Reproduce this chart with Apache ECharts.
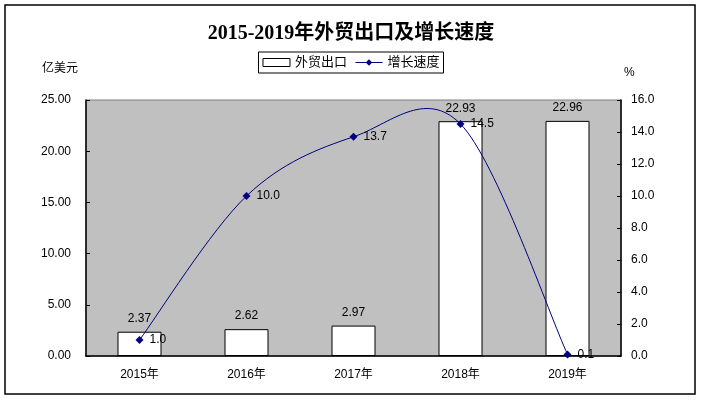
<!DOCTYPE html>
<html><head><meta charset="utf-8">
<script src="https://cdn.jsdelivr.net/npm/echarts@6/dist/echarts.min.js"></script>
<style>html,body{margin:0;padding:0;background:#fff}#c{width:702px;height:400px}</style>
</head><body><div id="c"></div>
<script>
var categories = ['2015年','2016年','2017年','2018年','2019年'];
var exportValues = [2.37, 2.62, 2.97, 22.93, 22.96];
var growthRates = [1.0, 10.0, 13.7, 14.5, 0.1];
var leftTicks = {min: 0, max: 25, interval: 5};
var rightTicks = {min: 0, max: 16, interval: 2};

var chart = echarts.init(document.getElementById('c'));
var sans = 'Arial, "Liberation Sans", "Noto Sans CJK SC", sans-serif';
var lineColor = '#000080';

// Smoothed curve (Catmull-Rom style, like the spreadsheet's smoothed line) through the data points,
// positioned through the chart's own coordinate system.
function renderCurve(params, api) {
  if (params.dataIndex !== 0) return null;
  var pts = growthRates.map(function (v, i) { return api.coord([i, v]); });
  var n = pts.length;
  var d = 'M' + pts[0][0] + ' ' + pts[0][1];
  for (var i = 0; i < n - 1; i++) {
    var p0 = pts[Math.max(i - 1, 0)], p1 = pts[i], p2 = pts[i + 1], p3 = pts[Math.min(i + 2, n - 1)];
    var c1x = p1[0] + (p2[0] - p0[0]) / 6, c1y = p1[1] + (p2[1] - p0[1]) / 6;
    var c2x = p2[0] - (p3[0] - p1[0]) / 6, c2y = p2[1] - (p3[1] - p1[1]) / 6;
    d += ' C' + c1x + ' ' + c1y + ' ' + c2x + ' ' + c2y + ' ' + p2[0] + ' ' + p2[1];
  }
  return {type: 'path', shape: {pathData: d}, style: {fill: 'none', stroke: lineColor, lineWidth: 1}, z2: 1};
}

chart.setOption({
  animation: false,
  backgroundColor: '#fff',
  textStyle: {fontFamily: sans},
  title: {
    text: '2015-2019年外贸出口及增长速度',
    left: 'center', top: 19,
    textStyle: {fontFamily: '"Liberation Serif", "Times New Roman", "Noto Sans CJK SC", serif', fontSize: 20, fontWeight: 'bold', color: '#000'}
  },
  legend: {
    top: 52, left: 'center',
    borderColor: '#000', borderWidth: 1, padding: [4, 4, 4, 4],
    itemWidth: 27, itemHeight: 8, itemGap: 8,
    textStyle: {fontSize: 13, color: '#000', fontFamily: sans},
    lineStyle: {color: lineColor, width: 1, opacity: 1},
    data: [
      {name: '外贸出口', icon: 'rect', itemStyle: {color: '#fff', borderColor: '#000', borderWidth: 1}},
      {name: '增长速度', lineStyle: {color: lineColor, width: 1, opacity: 1}}
    ]
  },
  graphic: [
    {type: 'rect', shape: {x: 5, y: 5, width: 690, height: 389}, style: {fill: 'none', stroke: '#000', lineWidth: 1.5}, z: 100},
    {type: 'text', left: 42, top: 63, style: {text: '亿美元', font: '12px ' + sans, fill: '#000'}},
    {type: 'text', left: 624, top: 67, style: {text: '%', font: '12px ' + sans, fill: '#000'}}
  ],
  grid: {left: 86, right: 81, top: 100, bottom: 44, show: true, backgroundColor: '#C0C0C0', borderColor: '#808080', borderWidth: 1},
  xAxis: {
    type: 'category', data: categories,
    axisLine: {lineStyle: {color: '#000', width: 1.5}},
    axisTick: {inside: true, length: 4, lineStyle: {color: '#000'}},
    axisLabel: {color: '#000', fontSize: 12, margin: 13}
  },
  yAxis: [
    {
      type: 'value', min: leftTicks.min, max: leftTicks.max, interval: leftTicks.interval,
      axisLine: {show: true, lineStyle: {color: '#000', width: 1.5}},
      axisTick: {show: true, inside: true, length: 4, lineStyle: {color: '#000'}},
      splitLine: {show: false},
      axisLabel: {color: '#000', fontSize: 12, margin: 15, formatter: function (v) { return v.toFixed(2); }}
    },
    {
      type: 'value', min: rightTicks.min, max: rightTicks.max, interval: rightTicks.interval, position: 'right',
      axisLine: {show: true, lineStyle: {color: '#000', width: 1.5}},
      axisTick: {show: true, inside: true, length: 4, lineStyle: {color: '#000'}},
      splitLine: {show: false},
      axisLabel: {color: '#000', fontSize: 12, margin: 10, formatter: function (v) { return v.toFixed(1); }}
    }
  ],
  series: [
    {
      name: '外贸出口', type: 'bar', data: exportValues, barWidth: 44, yAxisIndex: 0,
      itemStyle: {color: '#fff', borderColor: '#000', borderWidth: 1},
      label: {show: true, position: 'top', distance: 7, color: '#000', fontSize: 12, formatter: function (p) { return p.value.toFixed(2); }}
    },
    {
      name: '增长速度曲线', type: 'custom', data: growthRates, yAxisIndex: 1,
      renderItem: renderCurve, clip: false, silent: true, z: 4
    },
    {
      name: '增长速度', type: 'line', data: growthRates, yAxisIndex: 1,
      symbol: 'diamond', symbolSize: 8,
      lineStyle: {color: lineColor, width: 1, opacity: 0},
      itemStyle: {color: lineColor},
      label: {show: true, position: 'right', distance: 6, color: '#000', fontSize: 12, formatter: function (p) { return p.value.toFixed(1); }},
      z: 5
    }
  ]
});
</script></body></html>
